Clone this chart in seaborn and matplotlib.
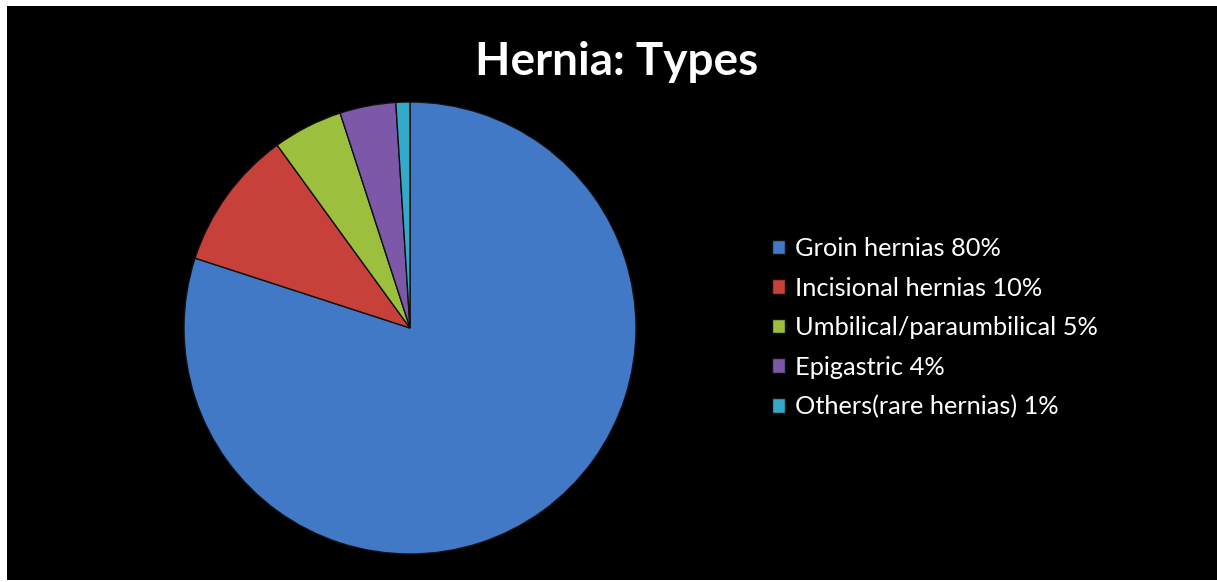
import matplotlib
matplotlib.use("Agg")
import matplotlib.pyplot as plt
import seaborn as sns
from matplotlib.patches import Rectangle

sns.set_theme(style="dark")
plt.rcParams['font.family'] = ['Lato', 'DejaVu Sans']

# data
hernia_types = ["Groin hernias 80%", "Incisional hernias 10%", "Umbilical/paraumbilical 5%",
                "Epigastric 4%", "Others(rare hernias) 1%"]
shares = [80, 10, 5, 4, 1]
slice_colors = ["#4179c6", "#c8403a", "#9cc03e", "#7e58a8", "#35a9c8"]

fig = plt.figure(figsize=(12.17, 5.82), dpi=100)
fig.patch.set_facecolor("white")

# black slide area with a thin white margin
fig.patches.append(Rectangle((7 / 1217, 2 / 582), 1 - 7 / 1217, 1 - 8 / 582,
                             transform=fig.transFigure, facecolor="black",
                             edgecolor="none", zorder=-10))

ax = fig.add_axes([184 / 1217, 28 / 582, 452 / 1217, 452 / 582])
ax.set_facecolor("none")
wedges, _ = ax.pie(shares, colors=sns.color_palette(slice_colors), startangle=90,
                   counterclock=False, radius=1.0,
                   wedgeprops=dict(edgecolor="#111111", linewidth=1.0))
ax.set_xlim(-1.0, 1.0)
ax.set_ylim(-1.0, 1.0)
ax.set_aspect("equal")
ax.axis("off")

fig.text(617 / 1217, 1 - 62 / 582, "Hernia: Types", color="white", fontsize=33,
         fontweight="bold", ha="center", va="center")

leg = fig.legend(wedges, hernia_types, loc="upper left",
                 bbox_to_anchor=(772 / 1217, 1 - 237 / 582), frameon=False,
                 fontsize=18.3, labelcolor="white", handlelength=0.5, handleheight=0.5,
                 handletextpad=0.4, labelspacing=0.65, borderpad=0, borderaxespad=0)

fig.savefig("out.png", dpi=100, facecolor=fig.get_facecolor())
